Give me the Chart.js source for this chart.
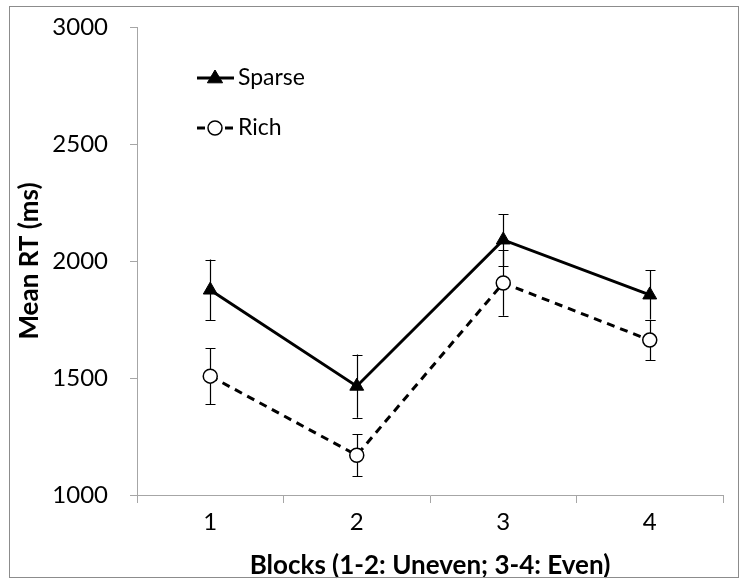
<!DOCTYPE html>
<html>
<head>
<meta charset="utf-8">
<script src="https://cdn.jsdelivr.net/npm/chart.js@4/dist/chart.umd.min.js"></script>
<style>
html,body{margin:0;padding:0;background:#fff;}
#wrap{width:741px;height:581px;position:relative;}
</style>
</head>
<body>
<div id="wrap"><canvas id="c" width="741" height="581"></canvas></div>
<script>
const categories = ['1', '2', '3', '4'];
const sparseValues = [1876, 1465, 2090, 1855];
const sparseErrors = [130, 135, 110, 105];
const richValues = [1508, 1170, 1906, 1662];
const richErrors = [120, 90, 140, 85];
const yTicks = [1000, 1500, 2000, 2500, 3000];
const seriesNames = ['Sparse', 'Rich'];
const xTitle = 'Blocks (1-2: Uneven; 3-4: Even)';
const yTitle = 'Mean RT (ms)';

const FONT = 'Lato, "Open Sans", sans-serif';
const AXIS_GRAY = '#a6a6a6';

const errorBars = {
  id: 'errorBars',
  beforeDatasetsDraw(chart) {
    const ctx = chart.ctx;
    const ys = chart.scales.y;
    ctx.save();
    ctx.strokeStyle = '#000';
    ctx.lineWidth = 1.2;
    chart.data.datasets.forEach((ds, di) => {
      const meta = chart.getDatasetMeta(di);
      meta.data.forEach((pt, i) => {
        const v = ds.data[i], e = ds.errors[i];
        const x = Math.round(pt.x) + 0.5;
        const yt = ys.getPixelForValue(v + e);
        const yb = ys.getPixelForValue(v - e);
        ctx.beginPath();
        ctx.moveTo(x, yt); ctx.lineTo(x, yb);
        ctx.moveTo(x - 5, Math.round(yt) + 0.5); ctx.lineTo(x + 5, Math.round(yt) + 0.5);
        ctx.moveTo(x - 5, Math.round(yb) + 0.5); ctx.lineTo(x + 5, Math.round(yb) + 0.5);
        ctx.stroke();
      });
    });
    ctx.restore();
  }
};

const frameAndLegend = {
  id: 'frameAndLegend',
  afterDraw(chart) {
    const ctx = chart.ctx;
    ctx.save();
    ctx.strokeStyle = '#8c8c8c';
    ctx.lineWidth = 1;
    ctx.strokeRect(9.5, 6.5, 729, 571);
    const rows = [{y: 78, ds: chart.data.datasets[0]}, {y: 128, ds: chart.data.datasets[1]}];
    rows.forEach(r => {
      const ds = r.ds;
      ctx.strokeStyle = '#000';
      ctx.lineWidth = 3;
      ctx.setLineDash(ds.borderDash || []);
      ctx.beginPath();
      ctx.moveTo(197, r.y); ctx.lineTo(234, r.y);
      ctx.stroke();
      ctx.setLineDash([]);
      ctx.fillStyle = ds.pointBackgroundColor;
      ctx.strokeStyle = ds.pointBorderColor;
      ctx.lineWidth = ds.pointBorderWidth;
      ctx.beginPath();
      if (ds.pointStyle === 'circle') {
        ctx.arc(215, r.y, ds.pointRadius, 0, Math.PI * 2);
      } else {
        const rad = ds.pointRadius;
        ctx.moveTo(215, r.y - rad);
        ctx.lineTo(215 + rad * 0.95, r.y + rad * 0.6);
        ctx.lineTo(215 - rad * 0.95, r.y + rad * 0.6);
        ctx.closePath();
      }
      ctx.fill(); ctx.stroke();
      ctx.fillStyle = '#000';
      ctx.font = '23px ' + FONT;
      ctx.textBaseline = 'middle';
      ctx.textAlign = 'left';
      ctx.fillText(ds.label, 238, r.y);
    });
    ctx.restore();
  }
};

new Chart(document.getElementById('c'), {
  type: 'line',
  data: {
    labels: categories,
    datasets: [
      {
        label: seriesNames[0],
        data: sparseValues,
        errors: sparseErrors,
        borderColor: '#000',
        borderWidth: 3,
        pointStyle: 'triangle',
        pointRadius: 8,
        pointBackgroundColor: '#000',
        pointBorderColor: '#000',
        pointBorderWidth: 1,
        tension: 0
      },
      {
        label: seriesNames[1],
        data: richValues,
        errors: richErrors,
        borderColor: '#000',
        borderWidth: 3,
        borderDash: [8, 6],
        pointStyle: 'circle',
        pointRadius: 7,
        pointBackgroundColor: '#fff',
        pointBorderColor: '#000',
        pointBorderWidth: 1.5,
        tension: 0
      }
    ]
  },
  options: {
    responsive: false,
    animation: false,
    layout: { padding: { left: 10, right: 18, top: 27, bottom: 0 } },
    plugins: { legend: { display: false }, tooltip: { enabled: false } },
    scales: {
      x: {
        type: 'category',
        offset: true,
        grid: { offset: true, drawOnChartArea: false, drawTicks: true, tickLength: 8, color: AXIS_GRAY, lineWidth: 1 },
        border: { color: AXIS_GRAY, width: 1 },
        ticks: { color: '#000', font: { family: FONT, size: 24 }, padding: 5 },
        title: { display: true, text: xTitle, color: '#000', font: { family: FONT, size: 26, weight: 'bold' }, padding: { top: 2.4, bottom: 0 } },
        afterFit(s) { s.height = 86; s.paddingLeft = 0; s.paddingRight = 0; }
      },
      y: {
        min: 1000, max: 3000,
        afterBuildTicks(s) { s.ticks = yTicks.map(v => ({ value: v })); },
        grid: { drawOnChartArea: false, drawTicks: true, tickLength: 7, color: AXIS_GRAY, lineWidth: 1 },
        border: { color: AXIS_GRAY, width: 1 },
        ticks: { color: '#000', font: { family: FONT, size: 24 }, padding: 22, callback: v => String(v) },
        title: { display: true, text: yTitle, color: '#000', font: { family: FONT, size: 26, weight: 'bold' }, padding: { top: 4.4, bottom: 0 } },
        afterFit(s) { s.width = 127; s.paddingTop = 0; s.paddingBottom = 0; }
      }
    }
  },
  plugins: [errorBars, frameAndLegend]
});
</script>
</body>
</html>
